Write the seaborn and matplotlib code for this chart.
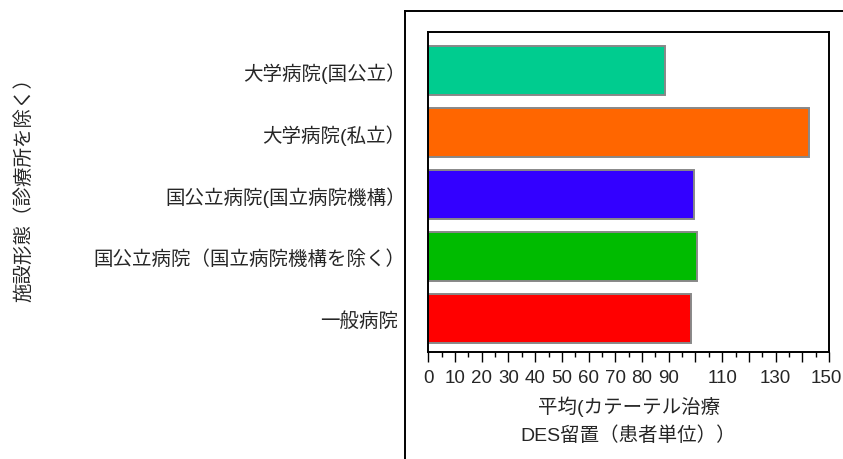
import matplotlib
matplotlib.use("Agg")
import matplotlib.pyplot as plt
import matplotlib.transforms as mtransforms
import seaborn as sns
import pandas as pd
from matplotlib.ticker import MultipleLocator

# data
categories = ["大学病院(国公立）", "大学病院(私立）", "国公立病院(国立病院機構）",
              "国公立病院（国立病院機構を除く）", "一般病院"]
values = [88.5, 142.5, 99.6, 100.5, 98.2]
colors = ["#00CC8F", "#FF6600", "#3300FF", "#00BB00", "#FF0000"]
tick_values = list(range(0, 151, 10))
tick_labels = ["" if v in (100, 120, 140) else str(v) for v in tick_values]

sns.set_style("white")
plt.rcParams["font.family"] = ["Liberation Sans", "Noto Sans CJK JP"]

df = pd.DataFrame({"施設形態": categories, "平均": values})

W, H = 843, 460
fig = plt.figure(figsize=(W / 100, H / 100), dpi=100)

# outer graph frame (left and top edges only)
frame = fig.add_axes([405 / W, -0.2, 1.0, (H - 12) / H + 0.2])
frame.set_xticks([])
frame.set_yticks([])
for side in ["right", "bottom"]:
    frame.spines[side].set_visible(False)
for side in ["left", "top"]:
    frame.spines[side].set_linewidth(1.4)
    frame.spines[side].set_color("black")
frame.patch.set_alpha(0)

ax = fig.add_axes([428.3 / W, (H - 353) / H, (829 - 428.3) / W, 320 / H])
sns.barplot(data=df, x="平均", y="施設形態", hue="施設形態", palette=colors,
            orient="h", width=0.8, saturation=1, edgecolor="#888888",
            linewidth=1.4, legend=False, ax=ax)

ax.set_xlim(0, 150)
ax.set_ylim(4.54, -0.62)
ax.set_xticks(tick_values)
ax.set_xticklabels(tick_labels)
ax.xaxis.set_minor_locator(MultipleLocator(5))
ax.tick_params(axis="x", which="major", direction="out", length=7, width=1,
               color="black", labelsize=13.5, pad=5, bottom=True)
ax.tick_params(axis="x", which="minor", direction="out", length=3.5, width=1,
               color="black", bottom=True)
ax.tick_params(axis="y", length=0, labelsize=14, pad=22)

# keep the last x label inside the figure
last = ax.get_xticklabels()[-1]
last.set_transform(last.get_transform() +
                   mtransforms.ScaledTranslation(-3 / 100, 0, fig.dpi_scale_trans))

# full-width closing paren leaves blank space on its right; nudge those labels
for lab in ax.get_yticklabels():
    if lab.get_text().endswith("）"):
        shift = mtransforms.ScaledTranslation(8 / 100, 0, fig.dpi_scale_trans)
        lab.set_transform(lab.get_transform() + shift)

for side in ax.spines.values():
    side.set_visible(True)
    side.set_color("black")
    side.set_linewidth(1.4)

ax.set_xlabel("平均(カテーテル治療\nDES留置（患者単位））", fontsize=14, linespacing=1.65)
ax.xaxis.set_label_coords(0.5, -0.135)
ax.set_ylabel("施設形態（診療所を除く）", fontsize=14)
ax.yaxis.set_label_coords(-0.987, 0.525)

fig.savefig("out.png", dpi=100)
